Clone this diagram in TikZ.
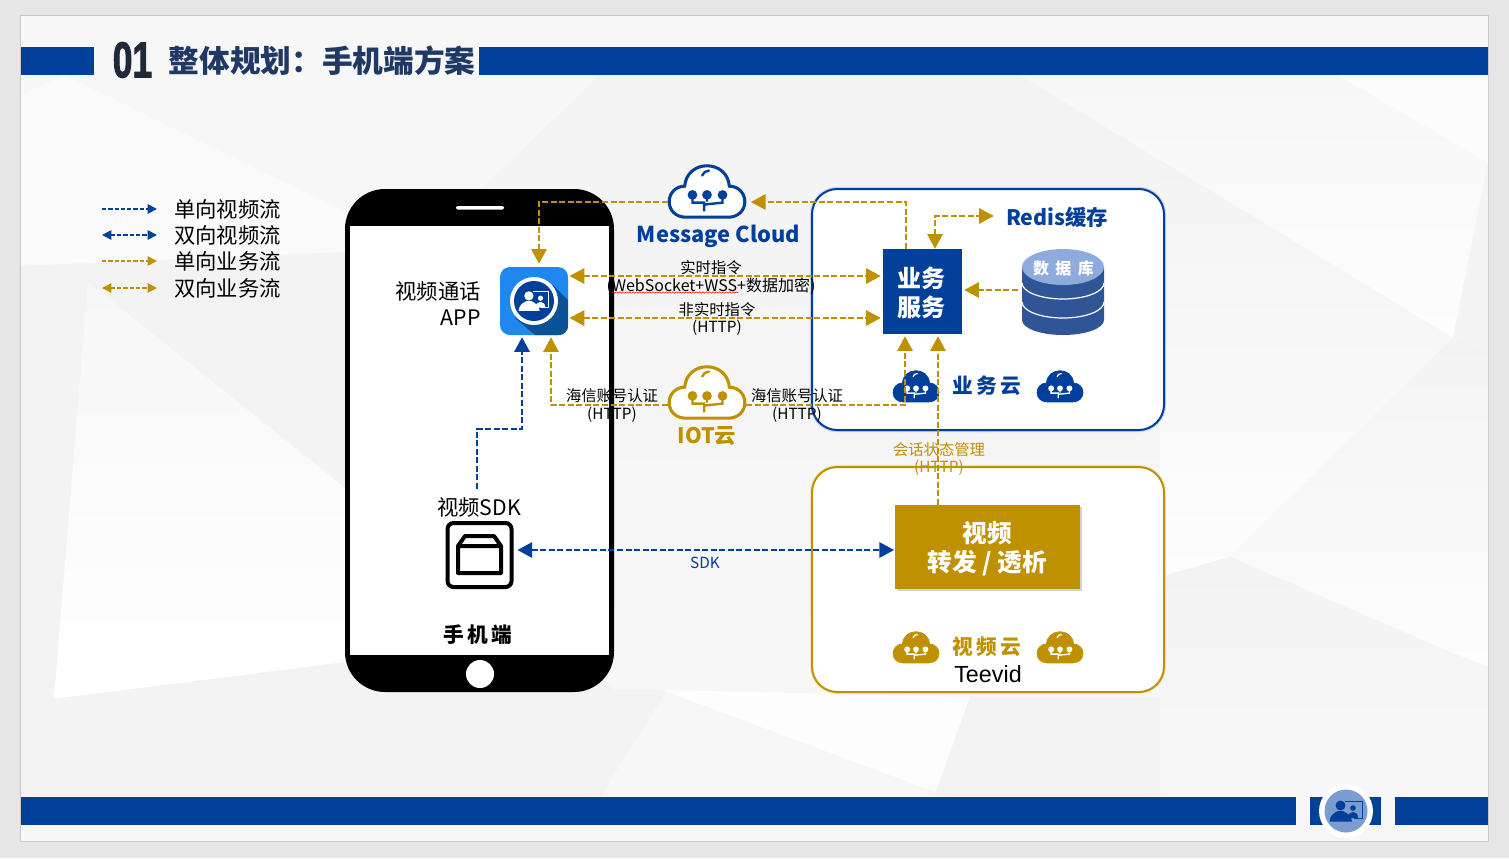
\documentclass[tikz,border=0pt]{standalone}
\usepackage{fontspec}
\setmainfont{Noto Sans CJK SC}
\newfontfamily\arialfont{Liberation Sans}
\usetikzlibrary{arrows.meta,shadows,decorations.pathmorphing}

\definecolor{barblue}{HTML}{003F9A}
\definecolor{flowgold}{HTML}{BF9000}
\definecolor{titleink}{HTML}{1F3864}
\definecolor{dbbody}{HTML}{2F5597}
\definecolor{dbtop}{HTML}{8FAADC}
\definecolor{appblue}{HTML}{1E88F0}
\definecolor{appshade}{HTML}{0A5296}
\definecolor{badgeblue}{HTML}{7C9CCF}
\definecolor{facetdark}{HTML}{F3F3F4}
\definecolor{facetmid}{HTML}{F7F7F8}
\definecolor{facetlight}{HTML}{FDFDFD}

\tikzset{
	goldline/.style={draw=flowgold,line width=1.5pt,dash pattern=on 4.5pt off 1.9pt},
	blueline/.style={draw=barblue,line width=1.5pt,dash pattern=on 4.5pt off 1.9pt},
	bigtip/.style={>={Triangle[length=11pt,width=11.5pt]}},
	legline/.style={line width=1.2pt,dash pattern=on 3.2pt off 1.5pt,>={Triangle[length=7pt,width=7pt]}},
	legtext/.style={anchor=west,inner sep=0pt,font=\fontsize{16}{20}\selectfont},
	phonetext/.style={inner sep=0pt,font=\fontsize{16}{19}\selectfont},
	flowtext/.style={inner sep=0pt,align=center,font=\fontsize{11.5}{13}\selectfont},
	cloudbox/.style={draw,fill=white,line width=1.5pt,rounded corners=19pt,inner sep=0pt,minimum width=264pt},
	iconspot/.style={inner sep=0pt,minimum width=58.5pt,minimum height=40pt},
	titlebar/.style={fill=barblue,draw=none},
	spaced/.style={inner sep=0pt,font=\fontsize{15.5}{18}\selectfont\bfseries\addfontfeature{LetterSpace=17}}
}

% cloud: centre, scale, body fill, ink of the circuit, line width
\newcommand{\cloudicon}[5]{
	\begin{scope}[shift={(#1)},scale=#2]
		\draw [draw=#4,fill=#3,line width=#5] (-22,27) .. controls (-32,27) and (-39,20) .. (-39,11) .. controls (-39,2) and (-32,-5) .. (-23,-5) .. controls (-22,-18) and (-12,-26) .. (0,-26) .. controls (12,-26) and (22,-18) .. (23,-5) .. controls (32,-5) and (39,2) .. (39,11) .. controls (39,20) and (32,27) .. (22,27) -- cycle ;
	\end{scope}
}
\newcommand{\cloudinner}[4]{
	\begin{scope}[shift={(#1)},scale=#2]
		\draw [draw=#3,line width=#4,line cap=round] (-5,-16) .. controls (-4,-19) and (-1,-21) .. (2,-21) ;
		\draw [draw=#3,line width=#4] (-15,4) -- (-15,12) -- (-2,12) (0,4) -- (0,11) (16,4) -- (16,12) -- (-3,14) -- (-3,21) ;
		\fill [#3] (-15,4) circle [radius=5] (0,4) circle [radius=5] (16,4) circle [radius=5] ;
	\end{scope}
}
% person in front of a screen: centre, scale, ink
\newcommand{\personmark}[3]{
	\begin{scope}[shift={(#1)},scale=#2]
		\fill [#3] (-5.5,-5.5) circle [radius=5] ;
		\fill [#3] (-16.5,10.5) -- (6,10.5) .. controls (6,5) and (1,2) .. (-3,0) -- (-8,0) .. controls (-12,2) and (-16,4) .. (-16.5,10.5) -- cycle ;
		\draw [draw=#3,line width=0.7pt] (-1,-10) -- (16,-10) -- (16,7) -- (8,7) ;
		\fill [#3] (7,-3) circle [radius=2.8] ;
		\fill [#3] (2,7) .. controls (2,3) and (4,1) .. (7,1) .. controls (10,1) and (12,3) .. (12,7) -- cycle ;
	\end{scope}
}

\begin{document}
\begin{tikzpicture}[x=0.75pt,y=0.75pt,yscale=-1,xscale=1]

	% Page and slide
	\fill [fill={rgb,255:red,230;green,230;blue,230}] (0,0) rectangle (1509,858) ;
	\draw [draw={rgb,255:red,200;green,200;blue,200},fill=facetmid,line width=0.75pt] (20.5,15.5) rectangle (1488.5,841.5) ;
	% Facets of the backdrop, left
	\fill [fill={rgb,255:red,250;green,250;blue,250}] (21,95) -- (64,75) -- (348,213) -- (346,252) -- (21,266) -- cycle ;
	\fill [facetdark] (21,266) -- (346,252) -- (346,490) -- (88,282) -- (54,699) -- (21,720) -- cycle ;
	\shade [top color=facetmid,bottom color=white] (88,282) -- (348,490) -- (348,662) -- (54,699) -- cycle ;
	\fill [facetdark] (21,720) -- (54,699) -- (346,662) -- (667,690) -- (600,797) -- (21,797) -- cycle ;
	% Facets, middle
	\shade [top color=facetdark,bottom color=facetmid] (600,75) -- (1020,75) -- (1160,160) -- (1160,690) -- (614,690) -- (480,190) -- cycle ;
	\fill [facetlight] (662,690) -- (970,697) -- (935,792) -- cycle ;
	\fill [facetdark] (970,697) -- (1160,697) -- (1160,797) -- (935,797) -- cycle ;
	% Facets, right
	\fill [fill={rgb,255:red,252;green,252;blue,252}] (1337,75) -- (1488,163) -- (1488,75) -- cycle ;
	\shade [top color=facetmid,bottom color=facetlight] (1020,75) -- (1337,75) -- (1488,163) -- (1453,338) -- cycle ;
	\shade [top color=facetdark,bottom color=facetlight] (1160,160) -- (1453,338) -- (1230,557) -- (1160,577) -- cycle ;
	\shade [top color=facetdark,bottom color=facetlight] (1453,338) -- (1488,351) -- (1488,667) -- (1457,655) -- (1230,557) -- cycle ;
	\fill [fill={rgb,255:red,244;green,244;blue,245}] (1453,338) -- (1488,163) -- (1488,351) -- cycle ;
	\shade [top color=facetdark,bottom color=facetmid] (1160,577) -- (1230,557) -- (1457,655) -- (1488,667) -- (1488,797) -- (1160,797) -- cycle ;

	% Title and foot bars
	\fill [titlebar] (21,47) rectangle (94,75) ;
	\fill [titlebar] (479,47) rectangle (1488,75) ;
	\fill [titlebar] (21,797) rectangle (1296,825) ;
	\fill [titlebar] (1310,797) rectangle (1381,825) ;
	\fill [titlebar] (1395,797) rectangle (1488,825) ;
	% Text Node
	\node (secno) at (132.5,60) [inner sep=0pt,text={rgb,255:red,31;green,41;blue,55}] {\fontsize{35}{35}\selectfont\arialfont\bfseries\addfontfeature{FakeBold=2.5}\scalebox{0.76}[1.08]{01}};
	% Text Node
	\node (title) at (322,60.5) [inner sep=0pt,text=titleink] {\fontsize{23}{26}\selectfont\bfseries 整体规划：手机端方案};

	% Badge
	\node (badge) at (1346,811) [circle,fill=white,inner sep=0pt,minimum size=40.5pt] {};
	\fill [badgeblue] (badge.center) circle [radius=21.5] ;
	\personmark{badge.center}{1}{barblue}

	% Legend
	\node (lega) at (174,209) [legtext] {单向视频流};
	\node (legb) at (174,235) [legtext] {双向视频流};
	\node (legc) at (174,261) [legtext] {单向业务流};
	\node (legd) at (174,288) [legtext] {双向业务流};
	\coordinate (legas) at (102,209);
	\coordinate (legbs) at (102,235);
	\coordinate (legcs) at (102,261);
	\coordinate (legds) at (102,288);
	\draw [legline,->,draw=barblue] (legas) -- ([xshift=-12.75pt]lega.west) ;
	\draw [legline,<->,draw=barblue] (legbs) -- ([xshift=-12.75pt]legb.west) ;
	\draw [legline,->,draw=flowgold] (legcs) -- ([xshift=-12.75pt]legc.west) ;
	\draw [legline,<->,draw=flowgold] (legds) -- ([xshift=-12.75pt]legd.west) ;

	% Phone
	\fill [black,rounded corners=30pt] (345,189) rectangle (614,692) ;
	\fill [white] (350,226) rectangle (609,655) ;
	\fill [white,rounded corners=1pt] (456,206) rectangle (504,209.5) ;
	\fill [white] (480,674) circle [radius=14] ;
	% Text Node
	\node (phonename) at (478,635) [spaced] {手机端};

	% App icon
	\node (app) at (534,301) [fill=appblue,rounded corners=7.5pt,inner sep=0pt,minimum size=51pt] {};
	\begin{scope}
		\clip [rounded corners=7.5pt] (app.south west) rectangle (app.north east) ;
		\fill [appshade,shift={(app.center)}] (19,-16) -- (34,-1) -- (34,34) -- (1,34) -- (-19,17) -- cycle ;
	\end{scope}
	\fill [white] (app.center) circle [radius=24] ;
	\fill [barblue] (app.center) circle [radius=20] ;
	\personmark{app.center}{0.93}{white}
	% Text Node
	\node (appname) at (481,303.5) [phonetext,anchor=east,align=right] {视频通话\\APP};

	% SDK box
	\node (sdk) at (479.5,555) [draw=black,line width=3pt,rounded corners=4.5pt,inner sep=0pt,minimum size=48pt] {};
	\draw [line width=3pt,line join=round] (458,546) -- (465,536) -- (494,536) -- (501,546) -- (501,573) -- (458,573) -- cycle (458,546) -- (501,546) ;
	% Text Node
	\node (sdkname) at (479,507) [phonetext] {视频SDK};

	% Cloud containers
	\node (biz) at (988,309.5) [cloudbox,draw=barblue,minimum height=180.75pt,preaction={draw=barblue!22,line width=3.2pt}] {};
	\node (vid) at (988,579.5) [cloudbox,draw=flowgold,minimum height=168.75pt,preaction={draw=flowgold!22,line width=3.2pt}] {};

	% Message Cloud and IOT cloud
	\node (mc) at (707,191) [iconspot] {};
	\cloudicon{mc.center}{0.97}{white}{barblue}{2.3pt}
	\cloudinner{mc.center}{0.97}{barblue}{1.8pt}
	\node (mcname) at (718.5,236.5) [inner sep=0pt,text=barblue,font=\fontsize{16.4}{20}\selectfont\bfseries] {Message Cloud};
	\node (iot) at (707,392) [iconspot] {};
	\cloudicon{iot.center}{0.97}{white}{flowgold}{2.3pt}
	\cloudinner{iot.center}{0.97}{flowgold}{1.8pt}
	\node (iotname) at (707,436) [inner sep=0pt,text=flowgold,font=\fontsize{16}{20}\selectfont\bfseries] {IOT云};

	% Business service and video relay
	\node (svc) at (922.5,291.5) [fill=barblue,inner sep=0pt,minimum width=59.25pt,minimum height=63.75pt] {};
	\node (svctext) at (921,293) [text=white,inner sep=0pt,align=center,font=\fontsize{18}{21.5}\selectfont\bfseries] {业务\\服务};
	\node (relay) at (987.5,547) [fill=flowgold,inner sep=0pt,minimum width=138.75pt,minimum height=63pt,drop shadow={opacity=0.35,shadow xshift=1.5pt,shadow yshift=-1.5pt}] {};
	\node (relaytext) at (987.5,549) [text=white,inner sep=0pt,align=center,font=\fontsize{18.5}{22}\selectfont\bfseries] {视频\\转发~/~透析};

	% Redis and database
	\node (redis) at (1057,217) [inner sep=0pt,text=barblue,font=\fontsize{16}{20}\selectfont\bfseries] {Redis缓存};
	\node (db) at (1063,291.5) [inner sep=0pt,minimum width=61.5pt,minimum height=65pt] {};
	\fill [dbbody] (1022,268) -- (1022,320) arc [start angle=180,end angle=0,x radius=41,y radius=15] -- (1104,268) -- cycle ;
	\draw [white,line width=0.9pt] (1022,283) arc [start angle=180,end angle=0,x radius=41,y radius=16] ;
	\draw [white,line width=0.9pt] (1022,302) arc [start angle=180,end angle=0,x radius=41,y radius=16] ;
	\fill [dbtop] (1063,267) ellipse [x radius=41,y radius=18] ;
	\node (dbname) at (1063.5,268) [inner sep=0pt,text=white,font=\fontsize{12}{14}\selectfont\bfseries\addfontfeature{LetterSpace=40}] {数据库};

	% Small clouds
	\coordinate (bizcl) at (916,386);
	\coordinate (bizcr) at (1060,386);
	\coordinate (vidcl) at (916,647);
	\coordinate (vidcr) at (1060,647);
	\cloudicon{bizcl}{0.59}{barblue}{barblue}{0.5pt}
	\cloudinner{bizcl}{0.59}{white}{1pt}
	\cloudicon{bizcr}{0.59}{barblue}{barblue}{0.5pt}
	\cloudinner{bizcr}{0.59}{white}{1pt}
	\cloudicon{vidcl}{0.59}{flowgold}{flowgold}{0.5pt}
	\cloudinner{vidcl}{0.59}{white}{1pt}
	\cloudicon{vidcr}{0.59}{flowgold}{flowgold}{0.5pt}
	\cloudinner{vidcr}{0.59}{white}{1pt}
	% Text Node
	\node (bizname) at (987,386) [spaced,text=barblue] {业务云};
	% Text Node
	\node (vidname) at (987,647) [spaced,text=flowgold] {视频云};
	% Text Node
	\node (teevid) at (988,674) [inner sep=0pt,font=\fontsize{17.5}{20}\selectfont\arialfont] {Teevid};

	% Rails of the connectors
	\coordinate (railmc) at (700,202);
	\coordinate (railrt) at (700,276);
	\coordinate (railnrt) at (700,318);
	\coordinate (railiot) at (700,405);
	\coordinate (railsdk) at (700,550);
	\coordinate (railredis) at (935,216);
	\coordinate (raildb) at (1000,290);
	\coordinate (colmc) at (906,300);
	\coordinate (colapp) at (539,300);
	\coordinate (coliota) at (551,300);
	\coordinate (coliotb) at (905,300);
	\coordinate (colsta) at (938,300);
	\coordinate (colredis) at (935,300);
	\coordinate (colvideo) at (522,300);
	\coordinate (sdkup) at (477,489);
	\coordinate (sdkbend) at (477,429);

	% Business flows
	\draw [goldline,bigtip,->] (svc.north -| colmc) |- ([xshift=3.5pt]mc.east |- railmc) ;
	\draw [goldline,bigtip,->] (mc.west |- railmc) -| ([yshift=-2.25pt]app.north -| colapp) ;
	\draw [goldline,bigtip,<->] ([xshift=1pt]app.east |- railrt) -- ([xshift=-1.5pt]svc.west |- railrt) ;
	\draw [goldline,bigtip,<->] ([xshift=1pt]app.east |- railnrt) -- ([xshift=-1.5pt]svc.west |- railnrt) ;
	\draw [goldline,bigtip,->] (iot.west |- railiot) -| ([yshift=1.5pt]app.south -| coliota) ;
	\draw [goldline,bigtip,->] (iot.east |- railiot) -| ([yshift=1.5pt]svc.south -| coliotb) ;
	\draw [goldline,bigtip,->] (relay.north -| colsta) -- ([yshift=1.5pt]svc.south -| colsta) ;
	\draw [goldline,bigtip,->] ([xshift=-3pt]db.west |- raildb) -- ([xshift=1.5pt]svc.east |- raildb) ;
	\draw [goldline,bigtip,<->] (svc.north -| colredis) |- ([xshift=-9pt]redis.west |- railredis) ;

	% Video flows
	\draw [blueline,bigtip,->] (sdkup) -- (sdkbend) -| ([yshift=1.5pt]app.south -| colvideo) ;
	\draw [blueline,bigtip,<->] ([xshift=3pt]sdk.east |- railsdk) -- ([xshift=-0.5pt]relay.west |- railsdk) ;

	% Text Node
	\node (lbrt) at (711,268) [flowtext] {实时指令};
	% Text Node
	\node (lbws) at (711,286) [flowtext,font=\fontsize{12}{13}\selectfont] {(WebSocket+WSS+数据加密)};
	\coordinate (wavea) at (612,292.5);
	\coordinate (waveb) at (738,292.5);
	\draw [red,line width=0.4pt,decorate,decoration={snake,amplitude=0.5pt,segment length=2.5pt}] (wavea) -- (waveb) ;
	% Text Node
	\node (lbnrt) at (717,310) [flowtext] {非实时指令};
	% Text Node
	\node (lbnrth) at (717,328) [flowtext] {(HTTP)};
	% Text Node
	\node (lbhxa) at (612,396) [flowtext] {海信账号认证};
	% Text Node
	\node (lbhxah) at (612,414.5) [flowtext] {(HTTP)};
	% Text Node
	\node (lbhxb) at (797,396) [flowtext] {海信账号认证};
	% Text Node
	\node (lbhxbh) at (797,414.5) [flowtext] {(HTTP)};
	% Text Node
	\node (lbsta) at (939,449.5) [flowtext,text=flowgold] {会话状态管理};
	% Text Node
	\node (lbstah) at (939,468) [flowtext,text=flowgold] {(HTTP)};
	% Text Node
	\node (lbsdk) at (705,563) [flowtext,text=barblue] {SDK};

\end{tikzpicture}
\end{document}
